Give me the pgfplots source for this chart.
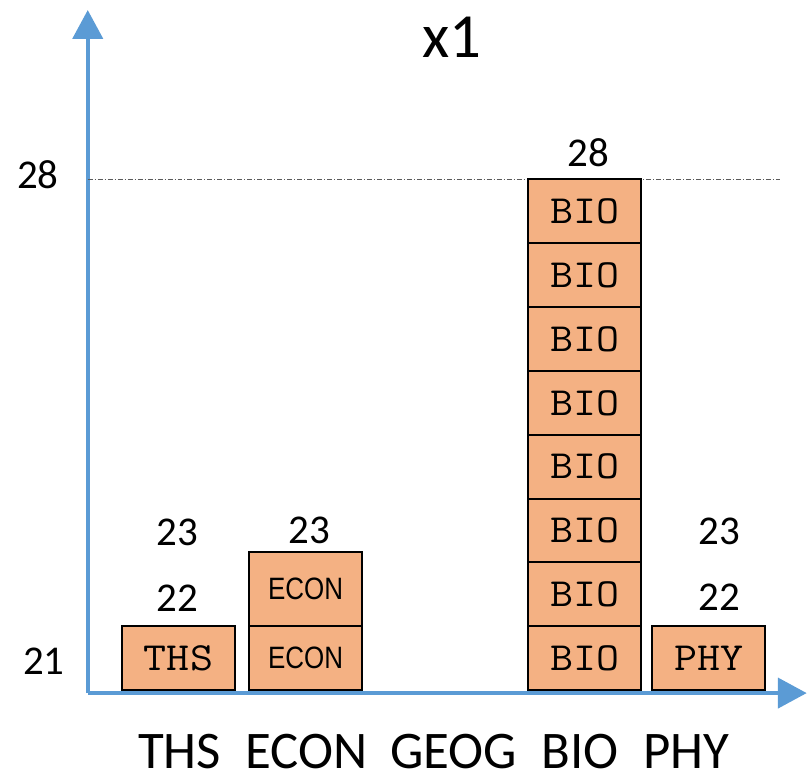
\documentclass[border=0pt]{standalone}
\usepackage{fontspec}
\setmainfont{Carlito}
\newfontfamily\lsans{Liberation Sans}
\usepackage{pgfplots}
\pgfplotsset{compat=1.18}
\usetikzlibrary{arrows.meta}
\definecolor{axisblue}{RGB}{91,155,213}
\definecolor{boxfill}{RGB}{244,177,131}
\definecolor{refgray}{RGB}{90,90,90}
\begin{document}
\begin{tikzpicture}
\begin{axis}[
  x=1pt, y=64pt,
  xmin=88, xmax=809, ymin=-0.047, ymax=10.656,
  axis lines=left,
  axis line style={line width=4.5pt, axisblue, -{Triangle[length=29pt,width=30pt]}},
  clip=false,
  major tick length=0pt,
  /pgf/number format/assume math mode=true,
  xtick={180,307,455,582,688},
  xticklabels={THS,ECON,GEOG,BIO,PHY},
  xticklabel style={font=\fontsize{53}{60}\selectfont, anchor=base, inner sep=0pt, yshift=-76pt},
  ytick={0.453},
  yticklabels={21},
  extra y ticks={8.08},
  extra y tick labels={28},
  yticklabel style={font=\fontsize{41}{48}\selectfont, anchor=center, inner sep=0pt, xshift=-44pt},
  extra y tick style={yticklabel style={xshift=-6pt}},
  title={x1},
  title style={at={(0.506,0.952)}, anchor=center, inner sep=0pt, font=\fontsize{63}{70}\selectfont},
]
\path (axis cs:0,-1.328) rectangle (axis cs:809,10.8125);

% reference line at 28
\addplot[refgray, line width=1pt, dash pattern=on 5pt off 2pt on 1pt off 2pt, mark=none] coordinates {(88,8) (782,8)};

% stacked boxes (column heights in box units)
\addplot[ybar, bar width=113.5, fill=boxfill, draw=black, line width=2pt, mark=none] coordinates {(179,1) (306.5,2.17) (586.5,8) (710.5,1)};

% separators between stacked boxes
\addplot[black, line width=2pt, mark=none, unbounded coords=jump] coordinates {
(250,1) (363,1) (nan,nan)
(530,1) (643,1) (nan,nan)
(530,2) (643,2) (nan,nan)
(530,3) (643,3) (nan,nan)
(530,4) (643,4) (nan,nan)
(530,5) (643,5) (nan,nan)
(530,6) (643,6) (nan,nan)
(530,7) (643,7)
};

% labels inside boxes (mono)
\addplot[draw=none, mark=none, point meta=explicit symbolic,
  nodes near coords={\scalebox{1.12}[1]{\pgfplotspointmeta}}, nodes near coords align=center,
  every node near coord/.append style={font=\ttfamily\fontsize{40}{44}\selectfont, inner sep=0pt, text=black}]
  table[meta=lab] {
x y lab
179 0.5 THS
586.5 0.5 BIO
586.5 1.5 BIO
586.5 2.5 BIO
586.5 3.5 BIO
586.5 4.5 BIO
586.5 5.5 BIO
586.5 6.5 BIO
586.5 7.5 BIO
710.5 0.5 PHY
};

% labels inside ECON boxes (sans)
\addplot[draw=none, mark=none, point meta=explicit symbolic,
  nodes near coords={\scalebox{0.84}[1]{\pgfplotspointmeta}}, nodes near coords align=center,
  every node near coord/.append style={font=\lsans\fontsize{31}{35}\selectfont, inner sep=0pt, text=black}]
  table[meta=lab] {
x y lab
306.5 0.5 ECON
306.5 1.585 ECON
};

% value labels
\addplot[draw=none, mark=none, point meta=explicit symbolic,
  nodes near coords={\pgfplotspointmeta}, nodes near coords align=center,
  every node near coord/.append style={font=\fontsize{41}{48}\selectfont, inner sep=0pt, text=black}]
  table[meta=lab] {
x y lab
178 1.44 22
178 2.47 23
310 2.50 23
590 8.42 28
721 1.45 22
721 2.48 23
};
\end{axis}
\end{tikzpicture}
\end{document}
